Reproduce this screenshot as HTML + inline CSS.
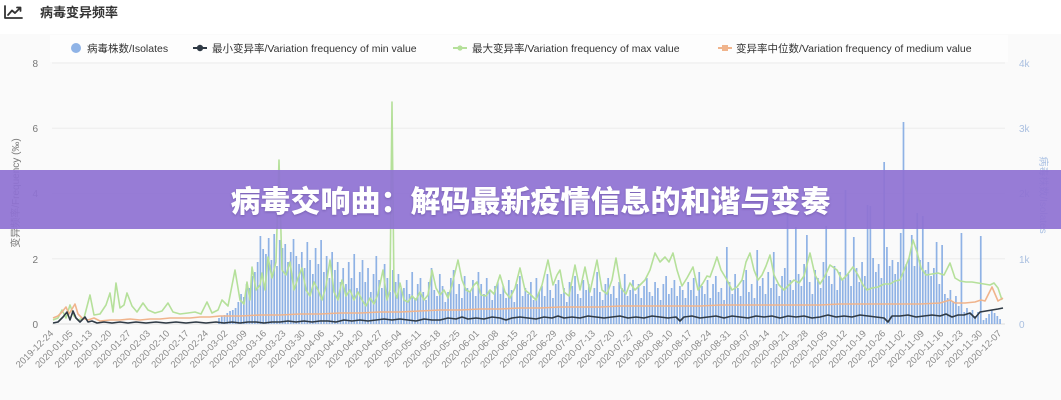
<!DOCTYPE html>
<html><head><meta charset="utf-8"><style>
html,body{margin:0;padding:0;}
body{width:1061px;height:400px;overflow:hidden;background:#fafafa;position:relative;font-family:"Liberation Sans","Noto Sans CJK SC",sans-serif;}
#hdr{position:absolute;left:0;top:0;width:1061px;height:34px;background:#fff;}
svg{position:absolute;left:0;top:0;}
#banner{position:absolute;left:0;top:170px;width:1061px;height:59px;background:rgba(143,114,211,0.93);}
#banner div{position:absolute;left:0;top:0;width:1061px;height:59px;line-height:59px;text-align:center;color:#fff;font-family:"Noto Sans CJK SC","WenQuanYi Zen Hei",sans-serif;font-weight:900;font-size:30px;letter-spacing:0;text-shadow:0 1px 2px rgba(60,40,110,0.35);}
</style></head><body>
<div id="hdr"></div>
<svg width="1061" height="400" viewBox="0 0 1061 400" xmlns="http://www.w3.org/2000/svg">
<!-- title -->
<g stroke="#333" stroke-width="1.8" fill="none" stroke-linecap="round" stroke-linejoin="round">
<path d="M5 6V18H22"/>
<path d="M8 15L12 10.5L15 13L20 8"/>
<path d="M17 7.5H20.5V11"/>
</g>
<text x="40" y="17" font-size="13" font-weight="bold" fill="#333" font-family="Liberation Sans, Noto Sans CJK SC, sans-serif">病毒变异频率</text>
<rect x="50" y="35" width="958" height="27" fill="#fdfdfd"/>
<!-- legend -->
<g font-size="10.5" fill="#333" font-family="Liberation Sans, Noto Sans CJK SC, sans-serif">
<circle cx="76" cy="48" r="5" fill="#8fb3e6"/>
<text x="87" y="52">病毒株数/Isolates</text>
<line x1="193" y1="48" x2="207" y2="48" stroke="#2f3a45" stroke-width="2"/>
<circle cx="200" cy="48" r="3.2" fill="#2f3a45"/>
<text x="212" y="52">最小变异率/Variation frequency of min value</text>
<line x1="453" y1="48" x2="467" y2="48" stroke="#b5e09a" stroke-width="2"/>
<circle cx="460" cy="48" r="2.6" fill="#b5e09a"/>
<text x="472" y="52">最大变异率/Variation frequency of max value</text>
<line x1="718" y1="48" x2="732" y2="48" stroke="#f0b48c" stroke-width="2"/>
<rect x="722" y="45" width="6" height="6" fill="#f0b48c"/>
<text x="736" y="52">变异率中位数/Variation frequency of medium value</text>
</g>
<!-- grid -->
<g stroke="#ececec" stroke-width="1">
<line x1="52" y1="63" x2="1005" y2="63"/>
<line x1="52" y1="128.3" x2="1005" y2="128.3"/>
<line x1="52" y1="193.5" x2="1005" y2="193.5"/>
<line x1="52" y1="258.8" x2="1005" y2="258.8"/>
<line x1="52" y1="324" x2="1005" y2="324" stroke="#dedede"/>
</g>
<!-- left ticks -->
<g font-size="10" fill="#777" text-anchor="end">
<text x="38" y="67">8</text>
<text x="38" y="132">6</text>
<text x="38" y="197">4</text>
<text x="38" y="263">2</text>
<text x="38" y="328">0</text>
</g>
<!-- right ticks -->
<g font-size="10" fill="#a9bfe0">
<text x="1019" y="67">4k</text>
<text x="1019" y="132">3k</text>
<text x="1019" y="197">2k</text>
<text x="1019" y="263">1k</text>
<text x="1019" y="328">0</text>
</g>
<text transform="translate(19,193) rotate(-90)" text-anchor="middle" font-size="10" fill="#777" font-family="Liberation Sans, Noto Sans CJK SC, sans-serif">变异频率/Frequency (‰)</text>
<text transform="translate(1040,195) rotate(90)" text-anchor="middle" font-size="10" fill="#a9c0e3" font-family="Liberation Sans, Noto Sans CJK SC, sans-serif">病毒株数/Isolates</text>
<!-- bars -->
<path stroke="#86abe3" stroke-width="1.7" fill="none" stroke-opacity="0.92" d="M219 324
v-6m2.76 6v-8m2.76 8v-9m2.76 9v-11m2.76 11v-13m2.76 13v-14m2.76 14v-16m2.76 16
v-22m2.76 22v-30m2.76 30v-27m2.76 27v-40m2.76 40v-36m2.76 36v-48m2.76 48v-52m2.76 52
v-62m2.76 62v-88m2.76 88v-75m2.76 75v-70m2.76 70v-86m2.76 86v-64m2.76 64v-90m2.76 90v-58m2.76 58v-84m2.76 84v-76m2.76 76v-80m2.76 80v-62m2.76 62v-72m2.76 72v-85m2.76 85v-68m2.76 68v-60m2.76 60
v-72m2.76 72v-56m2.76 56v-82m2.76 82v-64m2.76 64v-50m2.76 50v-76m2.76 76v-60m2.76 60v-84m2.76 84v-52m2.76 52v-68m2.76 68v-46m2.76 46v-72m2.76 72v-54m2.76 54v-62m2.76 62v-42m2.76 42
v-56m2.76 56v-40m2.76 40v-62m2.76 62v-46m2.76 46v-70m2.76 70v-36m2.76 36v-52m2.76 52v-64m2.76 64v-42m2.76 42v-56m2.76 56v-32m2.76 32v-50m2.76 50v-68m2.76 68v-44m2.76 44v-36m2.76 36v-60m2.76 60v-46m2.76 46v-32m2.76 32v-54m2.76 54v-42m2.76 42v-50m2.76 50v-36m2.76 36
v-36m2.76 36v-44m2.76 44v-30m2.76 30v-52m2.76 52v-26m2.76 26v-40m2.76 40v-46m2.76 46v-32m2.76 32v-24m2.76 24v-42m2.76 42v-56m2.76 56v-34m2.76 34v-28m2.76 28v-50m2.76 50v-38m2.76 38v-22m2.76 22v-32m2.76 32v-46m2.76 46v-54m2.76 54v-30m2.76 30v-40m2.76 40v-26m2.76 26v-48m2.76 48v-36m2.76 36v-32m2.76 32v-44m2.76 44v-28m2.76 28v-52m2.76 52v-40m2.76 40v-30m2.76 30v-46m2.76 46v-34m2.76 34v-24m2.76 24v-38m2.76 38v-42m2.76 42
v-30m2.76 30v-38m2.76 38v-26m2.76 26v-44m2.76 44v-34m2.76 34v-22m2.76 22v-40m2.76 40v-48m2.76 48v-28m2.76 28v-36m2.76 36v-30m2.76 30v-42m2.76 42v-24m2.76 24v-46m2.76 46v-32m2.76 32v-38m2.76 38v-28m2.76 28v-50m2.76 50v-34m2.76 34v-26m2.76 26v-40m2.76 40v-44m2.76 44v-30m2.76 30v-36m2.76 36v-22m2.76 22v-42m2.76 42v-38m2.76 38v-48m2.76 48v-30m2.76 30v-26m2.76 26v-44m2.76 44v-34m2.76 34v-40m2.76 40v-28m2.76 28v-36m2.76 36v-52m2.76 52v-32m2.76 32v-24m2.76 24v-40m2.76 40v-46m2.76 46v-30m2.76 30v-38m2.76 38v-26m2.76 26v-42m2.76 42v-36m2.76 36v-50m2.76 50v-28m2.76 28v-34m2.76 34v-44m2.76 44v-30m2.76 30v-40m2.76 40v-26m2.76 26v-38m2.76 38v-46m2.76 46v-32m2.76 32v-28m2.76 28v-42m2.76 42v-36m2.76 36v-24m2.76 24v-40m2.76 40v-48m2.76 48v-30m2.76 30v-36m2.76 36v-44m2.76 44v-28m2.76 28v-38m2.76 38v-34m2.76 34v-26m2.76 26v-42m2.76 42
v-34m2.76 34v-46m2.76 46v-28m2.76 28v-52m2.76 52v-38m2.76 38v-30m2.76 30v-44m2.76 44v-26m2.76 26v-40m2.76 40v-48m2.76 48v-32m2.76 32v-36m2.76 36v-24m2.76 24v-77m2.76 77v-42m2.76 42v-30m2.76 30v-50m2.76 50v-36m2.76 36v-28m2.76 28v-44m2.76 44v-54m2.76 54v-32m2.76 32v-40m2.76 40v-26m2.76 26v-74m2.76 74v-38m2.76 38v-46m2.76 46v-30m2.76 30v-52m2.76 52v-36m2.76 36v-72m2.76 72v-40m2.76 40v-28m2.76 28v-48m2.76 48v-56m2.76 56v-111m2.76 111v-44m2.76 44v-34m2.76 34v-97m2.76 97v-50m2.76 50v-38m2.76 38v-60m2.76 60v-89m2.76 89v-42m2.76 42v-30m2.76 30v-54m2.76 54v-46m2.76 46v-36m2.76 36v-62m2.76 62v-98m2.76 98v-48m2.76 48v-40m2.76 40v-58m2.76 58v-34m2.76 34v-52m2.76 52v-44m2.76 44v-134m2.76 134v-50m2.76 50v-38m2.76 38v-87m2.76 87v-56m2.76 56v-42m2.76 42v-62m2.76 62v-48m2.76 48v-119m2.76 119v-118m2.76 118v-66m2.76 66v-52m2.76 52v-60m2.76 60v-46m2.76 46v-162m2.76 162v-77m2.76 77v-58m2.76 58v-64m2.76 64v-50m2.76 50v-62m2.76 62v-91m2.76 91v-202m2.76 202v-60m2.76 60v-66m2.76 66v-89m2.76 89v-58m2.76 58v-111m2.76 111v-64m2.76 64v-108m2.76 108v-54m2.76 54v-62m2.76 62v-48m2.76 48v-56m2.76 56v-82m2.76 82v-40m2.76 40v-79m2.76 79v-30m2.76 30v-26m2.76 26v-34m2.76 34v-22m2.76 22v-28m2.76 28v-18m2.76 18v-91m2.76 91v-12m2.76 12v-16m2.76 16v-10m2.76 10v-14m2.76 14v-8m2.76 8v-12m2.76 12v-88m2.76 88v-4m2.76 4v-6m2.76 6v-10m2.76 10v-14m2.76 14v-11m2.76 11v-8m2.76 8v-5"/>
<!-- green max -->
<polyline fill="none" stroke="#b5e09a" stroke-width="1.6" stroke-linejoin="round" points="53,320 58,318 62,310 66,318 70,305 74,316 78,320 84,318 90,295 94,315 100,314 106,305 110,293 113,312 116,283 120,308 124,305 127,293 132,306 137,312 143,303 148,310 155,313 162,311 168,303 173,312 180,314 188,313 195,312 201,314 207,302 212,313 218,310 222,300 228,306 235,270 240,300 244,304 247,282 250,300 252,267 256,290 260,285 262,273 265,290 268,257 272,278 276,262 279,160 282,270 286,275 290,262 294,290 298,278 302,268 306,290 310,296 314,282 318,290 322,300 326,286 330,260 334,292 338,300 342,280 346,296 350,290 354,300 358,292 362,300 366,306 370,298 374,304 378,294 383,270 387,300 390,290 392,102 394,290 397,298 400,283 404,300 408,302 412,296 416,300 420,292 424,300 428,295 432,270 436,288 440,295 444,290 448,298 452,285 458,260 462,280 466,290 470,292 474,285 477,282 481,295 486,296 490,290 494,294 500,275 505,292 510,298 515,288 520,268 525,290 530,294 536,300 542,285 548,260 553,285 557,275 560,270 564,292 569,296 575,265 580,290 585,267 590,292 597,260 602,290 607,294 612,280 616,258 621,288 626,294 630,283 635,290 640,285 645,280 650,270 655,253 660,262 665,257 669,262 673,253 677,270 682,286 687,278 693,267 698,290 703,283 707,276 710,277 714,266 717,257 721,270 727,280 732,290 737,287 742,280 746,262 750,253 754,270 758,280 762,275 766,266 770,255 774,275 779,285 784,290 789,285 794,280 799,283 804,276 810,253 815,275 820,284 825,276 830,265 837,270 842,280 847,275 853,267 858,275 863,285 867,290 872,288 878,287 884,284 890,284 895,281 900,280 905,268 909,258 913,240 917,252 921,268 926,275 932,274 938,273 944,275 950,263 955,278 960,281 966,282 972,282 978,283 984,284 990,285 994,283 998,288 1002,300"/>
<!-- orange median -->
<polyline fill="none" stroke="#f0b48c" stroke-width="1.6" stroke-linejoin="round" points="53,318 58,316 62,312 66,307 69,314 72,309 75,304 78,314 82,318 88,320 94,318 100,321 110,320 120,320 130,319 140,320 150,319 160,319 170,318 180,318 190,318 200,317 210,317 220,316 240,316 260,315 280,315 300,314 320,314 340,313 360,313 380,312 400,312 420,311 440,310 460,310 480,309 500,309 520,308 540,308 560,307 580,307 600,307 620,306 640,306 660,306 680,306 700,306 720,305 740,305 760,305 780,305 800,305 820,305 840,304 860,304 880,304 900,304 920,304 940,303 950,300 955,303 965,303 975,302 981,300 985,301 989,293 992,287 995,294 998,301 1003,298"/>
<!-- black min -->
<polyline fill="none" stroke="#2f3a45" stroke-width="1.6" stroke-linejoin="round" points="53,323 58,322 63,317 67,312 70,320 73,311 76,318 80,322 85,317 88,322 92,321 97,323 104,322 112,323 120,322 128,323 136,322 146,323 156,322 166,323 176,322 186,323 196,322 206,323 216,322 224,323 232,322 240,323 248,322 256,322 264,323 272,322 280,322 288,321 296,322 304,321 312,322 320,321 328,321 336,322 344,320 352,321 360,320 368,321 376,320 384,319 392,320 400,319 408,320 416,321 424,319 432,320 440,320 448,318 456,319 462,317 468,319 476,318 484,319 492,317 500,318 506,320 512,318 520,317 528,318 536,319 544,317 552,318 558,316 564,318 572,317 580,318 588,316 596,317 604,318 612,317 620,316 628,318 636,317 644,318 652,316 660,317 668,318 676,317 680,321 684,317 692,316 700,318 708,317 716,316 724,318 732,316 740,317 748,318 756,316 764,317 772,316 780,318 788,316 796,317 804,316 812,318 820,317 828,315 836,317 844,316 852,317 860,315 868,316 876,317 884,318 888,322 892,316 900,316 908,315 916,317 924,316 932,315 940,316 946,314 952,317 958,315 964,315 970,313 975,318 980,312 986,311 992,310 998,309 1003,308"/>
<!-- x labels -->
<g font-size="9.5" fill="#8a8a8a" text-anchor="end">
<text transform="translate(54,334) rotate(-45)">2019-12-24</text>
<text transform="translate(73.35,334) rotate(-45)">2020-01-05</text>
<text transform="translate(92.7,334) rotate(-45)">2020-01-13</text>
<text transform="translate(112.05,334) rotate(-45)">2020-01-20</text>
<text transform="translate(131.4,334) rotate(-45)">2020-01-27</text>
<text transform="translate(150.75,334) rotate(-45)">2020-02-03</text>
<text transform="translate(170.1,334) rotate(-45)">2020-02-10</text>
<text transform="translate(189.45,334) rotate(-45)">2020-02-17</text>
<text transform="translate(208.8,334) rotate(-45)">2020-02-24</text>
<text transform="translate(228.15,334) rotate(-45)">2020-03-02</text>
<text transform="translate(247.5,334) rotate(-45)">2020-03-09</text>
<text transform="translate(266.85,334) rotate(-45)">2020-03-16</text>
<text transform="translate(286.2,334) rotate(-45)">2020-03-23</text>
<text transform="translate(305.55,334) rotate(-45)">2020-03-30</text>
<text transform="translate(324.9,334) rotate(-45)">2020-04-06</text>
<text transform="translate(344.25,334) rotate(-45)">2020-04-13</text>
<text transform="translate(363.6,334) rotate(-45)">2020-04-20</text>
<text transform="translate(382.95,334) rotate(-45)">2020-04-27</text>
<text transform="translate(402.3,334) rotate(-45)">2020-05-04</text>
<text transform="translate(421.65,334) rotate(-45)">2020-05-11</text>
<text transform="translate(441,334) rotate(-45)">2020-05-18</text>
<text transform="translate(460.35,334) rotate(-45)">2020-05-25</text>
<text transform="translate(479.7,334) rotate(-45)">2020-06-01</text>
<text transform="translate(499.05,334) rotate(-45)">2020-06-08</text>
<text transform="translate(518.4,334) rotate(-45)">2020-06-15</text>
<text transform="translate(537.75,334) rotate(-45)">2020-06-22</text>
<text transform="translate(557.1,334) rotate(-45)">2020-06-29</text>
<text transform="translate(576.45,334) rotate(-45)">2020-07-06</text>
<text transform="translate(595.8,334) rotate(-45)">2020-07-13</text>
<text transform="translate(615.15,334) rotate(-45)">2020-07-20</text>
<text transform="translate(634.5,334) rotate(-45)">2020-07-27</text>
<text transform="translate(653.85,334) rotate(-45)">2020-08-03</text>
<text transform="translate(673.2,334) rotate(-45)">2020-08-10</text>
<text transform="translate(692.55,334) rotate(-45)">2020-08-17</text>
<text transform="translate(711.9,334) rotate(-45)">2020-08-24</text>
<text transform="translate(731.25,334) rotate(-45)">2020-08-31</text>
<text transform="translate(750.6,334) rotate(-45)">2020-09-07</text>
<text transform="translate(769.95,334) rotate(-45)">2020-09-14</text>
<text transform="translate(789.3,334) rotate(-45)">2020-09-21</text>
<text transform="translate(808.65,334) rotate(-45)">2020-09-28</text>
<text transform="translate(828,334) rotate(-45)">2020-10-05</text>
<text transform="translate(847.35,334) rotate(-45)">2020-10-12</text>
<text transform="translate(866.7,334) rotate(-45)">2020-10-19</text>
<text transform="translate(886.05,334) rotate(-45)">2020-10-26</text>
<text transform="translate(905.4,334) rotate(-45)">2020-11-02</text>
<text transform="translate(924.75,334) rotate(-45)">2020-11-09</text>
<text transform="translate(944.1,334) rotate(-45)">2020-11-16</text>
<text transform="translate(963.45,334) rotate(-45)">2020-11-23</text>
<text transform="translate(982.8,334) rotate(-45)">2020-11-30</text>
<text transform="translate(1002.15,334) rotate(-45)">2020-12-07</text>
</g>
</svg>
<div id="banner"><div>病毒交响曲：解码最新疫情信息的和谐与变奏</div></div>
</body></html>
